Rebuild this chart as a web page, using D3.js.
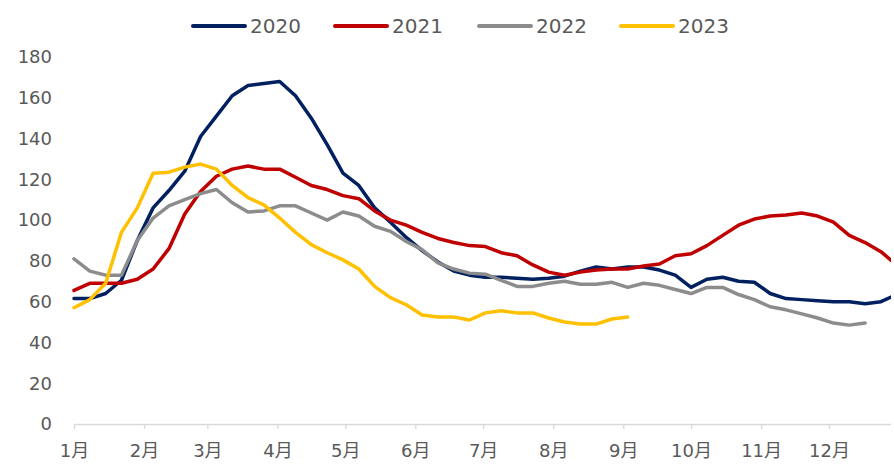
<!DOCTYPE html>
<html>
<head>
<meta charset="utf-8">
<script src="https://cdn.jsdelivr.net/npm/d3@7"></script>
<style>
  body { margin: 0; background: #fff; }
  text { font-family: "DejaVu Sans", "Noto Sans CJK SC", sans-serif; fill: #595959; }
</style>
</head>
<body>
<script>
// weekly readings, week 0 = 1 Jan
var months = ["1月", "2月", "3月", "4月", "5月", "6月", "7月", "8月", "9月", "10月", "11月", "12月"];
var monthStartDays = [0, 31, 59, 90, 120, 151, 181, 212, 243, 273, 304, 334];
var yTicks = [0, 20, 40, 60, 80, 100, 120, 140, 160, 180];

var years = ["2020", "2021", "2022", "2023"];
var colors = ["#002060", "#C00000", "#8C8C8C", "#FFC000"];

var v2020 = [61.5, 61.5, 64, 70.5, 90, 106, 114.5, 124, 141, 151, 161, 166, 167, 168, 161, 150, 137, 123, 117, 106,
  99, 91.5, 85, 79.5, 75, 73, 72, 72, 71.5, 71, 71.5, 72.5, 75, 77, 76, 77, 77, 75.5, 73, 67,
  71, 72, 70, 69.5, 64, 61.5, 61, 60.5, 60, 60, 59, 60, 63.5];
var v2021 = [65.5, 69, 69, 69, 71, 76, 86, 103, 114, 121.5, 125, 126.5, 125, 125, 121, 117, 115, 112, 110.5, 104.5,
  100, 97.5, 94, 91, 89, 87.5, 87, 84, 82.5, 78, 74.5, 73, 74.5, 75.5, 76, 76, 77.5, 78.5, 82.5, 83.5,
  87.5, 92.5, 97.5, 100.5, 102, 102.5, 103.5, 102, 99, 92.5, 89, 84.5, 78];
var v2022 = [81, 75, 73, 73, 90, 101, 107, 110, 113, 115, 108.5, 104, 104.5, 107, 107, 103.5, 100, 104, 102, 97,
  94.5, 89.5, 85.5, 79, 76, 74, 73.5, 70.5, 67.5, 67.5, 69, 70, 68.5, 68.5, 69.5, 67, 69, 68, 66, 64,
  67, 67, 63.5, 61, 57.5, 56, 54, 52, 49.5, 48.5, 49.5];
var v2023 = [57, 61, 69, 94, 106, 123, 123.5, 126, 127.5, 125, 117, 111, 107.5, 101, 94, 88, 84, 80.5, 76, 67.5,
  62, 58.5, 53.5, 52.5, 52.5, 51, 54.5, 55.5, 54.5, 54.5, 52, 50, 49, 49, 51.5, 52.5];
var series = [v2020, v2021, v2022, v2023];

var width = 894, height = 466;
var plotLeft = 74, plotRight = 899, plotTop = 57, plotBottom = 424;

var svg = d3.select("body").append("svg")
  .attr("width", width)
  .attr("height", height);

var x = d3.scaleLinear().domain([0, 365]).range([plotLeft, plotRight]);
var y = d3.scaleLinear().domain([0, 180]).range([plotBottom, plotTop]);

svg.append("defs").append("clipPath").attr("id", "plot")
  .append("rect").attr("x", plotLeft - 5).attr("y", 0).attr("width", 891 - plotLeft + 5).attr("height", height);

// y labels
svg.append("g").selectAll("text")
  .data(yTicks)
  .enter().append("text")
  .attr("x", 52)
  .attr("y", function(d) { return y(d); })
  .attr("dy", "0.35em")
  .attr("text-anchor", "end")
  .style("font-size", "18px")
  .text(function(d) { return d; });

// x axis
var xAxis = d3.axisBottom(x)
  .tickValues(monthStartDays)
  .tickSize(5)
  .tickFormat(function(d, i) { return months[i]; });

var gx = svg.append("g")
  .attr("transform", "translate(0," + plotBottom + ")")
  .call(xAxis);
gx.select(".domain").attr("stroke", "#d9d9d9").attr("stroke-width", 1.3)
  .attr("d", "M" + plotLeft + ",0.5H891");
gx.selectAll(".tick line").attr("stroke", "#d9d9d9").attr("stroke-width", 1.3);
gx.selectAll(".tick text")
  .attr("y", 20)
  .style("font-size", "18px")
  .style("font-family", "\"DejaVu Sans\", \"Noto Sans CJK SC\", sans-serif")
  .attr("fill", "#595959");

// lines
var line = d3.line()
  .x(function(d, i) { return x(i * 7); })
  .y(function(d) { return y(d); });

svg.append("g").attr("clip-path", "url(#plot)")
  .selectAll("path")
  .data(series)
  .enter().append("path")
  .attr("d", line)
  .attr("fill", "none")
  .attr("stroke", function(d, i) { return colors[i]; })
  .attr("stroke-width", 3.5)
  .attr("stroke-linejoin", "round")
  .attr("stroke-linecap", "round");

// legend
var legendX = [193, 335, 479, 621];
var lg = svg.append("g").selectAll("g")
  .data(years)
  .enter().append("g")
  .attr("transform", function(d, i) { return "translate(" + legendX[i] + ",26)"; });
lg.append("line")
  .attr("x1", 0).attr("x2", 52)
  .attr("stroke", function(d, i) { return colors[i]; })
  .attr("stroke-width", 4)
  .attr("stroke-linecap", "round");
lg.append("text")
  .attr("x", 57)
  .attr("dy", "0.35em")
  .style("font-size", "20px")
  .text(function(d) { return d; });
</script>
</body>
</html>
